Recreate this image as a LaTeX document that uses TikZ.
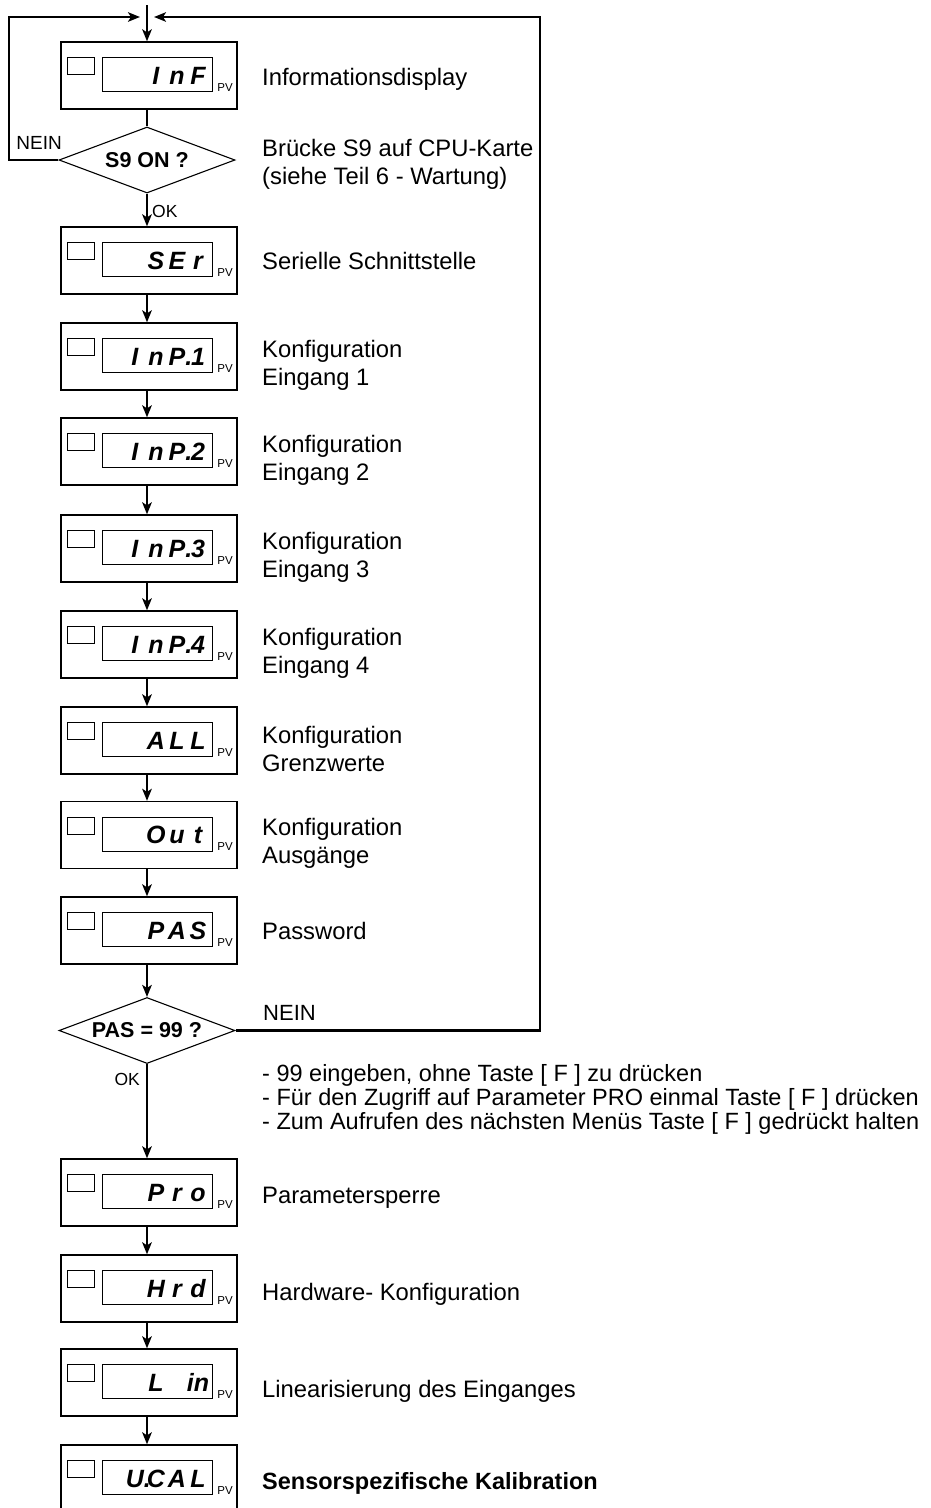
\documentclass[tikz,border=0pt]{standalone}
\usepackage{fontspec}
\setmainfont{Liberation Sans}
\newfontfamily\segfont{Liberation Sans}
\usetikzlibrary{shapes.geometric,arrows.meta,calc}

\newcommand{\cell}[1]{\makebox[21pt][c]{#1}}
\newcommand{\dispbox}[3]{%
  \node[dbox] (#1) at (149,{#2+33.5}) {};
  \node[led] (#1-l) at ([xshift=7pt,yshift=-16pt]#1.north west) {};
  \node[disp] (#1-d) at ([xshift=41.7pt,yshift=-16pt]#1.north west) {};
  \node[seg] (#1-t) at ([xshift=-4pt,yshift=8pt]#1-d.south east) {#3};
  \node[pv] (#1-p) at ([xshift=4.5pt,yshift=1pt]#1-d.south east) {PV};
}

\tikzset{
  dbox/.style={draw,line width=1.3pt,minimum width=176pt,minimum height=67pt,inner sep=0pt},
  led/.style={draw,line width=0.9pt,anchor=north west,minimum width=27pt,minimum height=17pt,inner sep=0pt},
  disp/.style={draw,line width=1pt,anchor=north west,minimum width=109.6pt,minimum height=34pt,inner sep=0pt},
  seg/.style={anchor=base east,inner sep=0pt,font=\segfont\bfseries\itshape\fontsize{25}{25}\selectfont},
  pv/.style={anchor=south west,inner sep=0pt,font=\fontsize{11.5}{12}\selectfont},
  dia/.style={draw,shape=diamond,line width=1.1pt,minimum width=176pt,minimum height=66pt,inner sep=0pt,shape aspect=2.67,font=\bfseries\fontsize{21.5}{21.5}\selectfont},
  lbl/.style={anchor=base west,inner sep=0pt,font=\fontsize{23.8}{28}\selectfont},
  lbltwo/.style={anchor=west,inner sep=0pt,align=left,font=\fontsize{23.8}{28}\selectfont},
  small/.style={inner sep=0pt,font=\fontsize{17.5}{17.5}\selectfont},
  arr/.style={line width=2.1pt,-{Stealth[length=12pt,width=9.5pt,inset=3pt]}},
  ln/.style={line width=2.1pt},
}

\begin{document}
\begin{tikzpicture}[x=1pt,y=-1pt]
\useasboundingbox (0,0) rectangle (930,1508);
\clip (0,0) rectangle (930,1508);

% display boxes
\dispbox{b1}{42}{\cell{I}\cell{n}\cell{F}}
\node[dia] (d1) at (147,160) {S9 ON ?};
\dispbox{b2}{227}{\cell{S}\cell{E}\cell{r}}
\dispbox{b3}{323}{\cell{I}\cell{n}\cell{P\rlap{.}}\cell{1}}
\dispbox{b4}{418}{\cell{I}\cell{n}\cell{P\rlap{.}}\cell{2}}
\dispbox{b5}{515}{\cell{I}\cell{n}\cell{P\rlap{.}}\cell{3}}
\dispbox{b6}{611}{\cell{I}\cell{n}\cell{P\rlap{.}}\cell{4}}
\dispbox{b7}{707}{\cell{A}\cell{L}\cell{L}}
\dispbox{b8}{801.5}{\cell{O}\cell{u}\cell{t}}
\dispbox{b9}{897}{\cell{P}\cell{A}\cell{S}}
\node[dia] (d2) at (147,1030.5) {PAS = 99 ?};
\dispbox{b10}{1159}{\cell{P}\cell{r}\cell{o}}
\dispbox{b11}{1255}{\cell{H}\cell{r}\cell{d}}
\dispbox{b12}{1349}{\cell{L}\cell{}\cell{in}}
\dispbox{b13}{1445}{\cell{U\rlap{.}}\cell{C}\cell{A}\cell{L}}

% labels
\node[lbl] (l1) at (262,85.4) {Informationsdisplay};
\node[lbltwo] (l2) at (262,164.3) {Brücke S9 auf CPU-Karte\\(siehe Teil 6 - Wartung)};
\node[lbl] (l3) at (262,269.4) {Serielle Schnittstelle};
\node[lbltwo] (l4) at (262,365.3) {Konfiguration\\Eingang 1};
\node[lbltwo] (l5) at (262,460.3) {Konfiguration\\Eingang 2};
\node[lbltwo] (l6) at (262,557.5) {Konfiguration\\Eingang 3};
\node[lbltwo] (l7) at (262,653.5) {Konfiguration\\Eingang 4};
\node[lbltwo] (l8) at (262,749) {Konfiguration\\Grenzwerte};
\node[lbltwo] (l9) at (262,843.5) {Konfiguration\\Ausgänge};
\node[lbl] (l10) at (262,939.4) {Password};
\node[lbl] (l11) at (262,1203.4) {Parametersperre};
\node[lbl] (l12) at (262,1300.4) {Hardware- Konfiguration};
\node[lbl] (l13) at (262,1397.4) {Linearisierung des Einganges};
\node[lbl,font=\bfseries\fontsize{23.5}{28}\selectfont] (l14) at (262,1489.4) {Sensorspezifische Kalibration};
\node[anchor=west,inner sep=0pt,align=left,font=\fontsize{23.5}{24}\selectfont] (notes) at (262,1099) {- 99 eingeben, ohne Taste [ F ] zu drücken\\- Für den Zugriff auf Parameter PRO einmal Taste [ F ] drücken\\- Zum Aufrufen des nächsten Menüs Taste [ F ] gedrückt halten};

% free ends of the loops
\coordinate (top) at (147,5);
\coordinate (nw) at (9,17);
\coordinate (tl) at (140,17);
\coordinate (ne) at (540,17);
\coordinate (tr) at (154,17);

% connectors
\draw[arr] (top) -- ([xshift=-2pt]b1.north);
\draw[ln] ([xshift=-2pt]b1.south) -- (d1.north);
\draw[arr] (d1.west) -| (nw) -- (tl);
\draw[arr] (d1.south) -- ([xshift=-2pt]b2.north);
\draw[arr] ([xshift=-2pt]b2.south) -- ([xshift=-2pt]b3.north);
\draw[arr] ([xshift=-2pt]b3.south) -- ([xshift=-2pt]b4.north);
\draw[arr] ([xshift=-2pt]b4.south) -- ([xshift=-2pt]b5.north);
\draw[arr] ([xshift=-2pt]b5.south) -- ([xshift=-2pt]b6.north);
\draw[arr] ([xshift=-2pt]b6.south) -- ([xshift=-2pt]b7.north);
\draw[arr] ([xshift=-2pt]b7.south) -- ([xshift=-2pt]b8.north);
\draw[arr] ([xshift=-2pt]b8.south) -- ([xshift=-2pt]b9.north);
\draw[arr] ([xshift=-2pt]b9.south) -- (d2.north);
\draw[arr] (d2.south) -- ([xshift=-2pt]b10.north);
\draw[arr] ([xshift=-2pt]b10.south) -- ([xshift=-2pt]b11.north);
\draw[arr] ([xshift=-2pt]b11.south) -- ([xshift=-2pt]b12.north);
\draw[arr] ([xshift=-2pt]b12.south) -- ([xshift=-2pt]b13.north);
\draw[arr] (d2.east) -| (ne) -- (tr);

% connector labels
\node[small,anchor=base east,font=\fontsize{19}{19}\selectfont] (nein1) at (62,149.5) {NEIN};
\node[small,anchor=base west] (ok1) at (152,217) {OK};
\node[small,anchor=base west,font=\fontsize{22}{22}\selectfont] (nein2) at (263,1020) {NEIN};
\node[small,anchor=base east] (ok2) at (140,1085) {OK};
\end{tikzpicture}
\end{document}
